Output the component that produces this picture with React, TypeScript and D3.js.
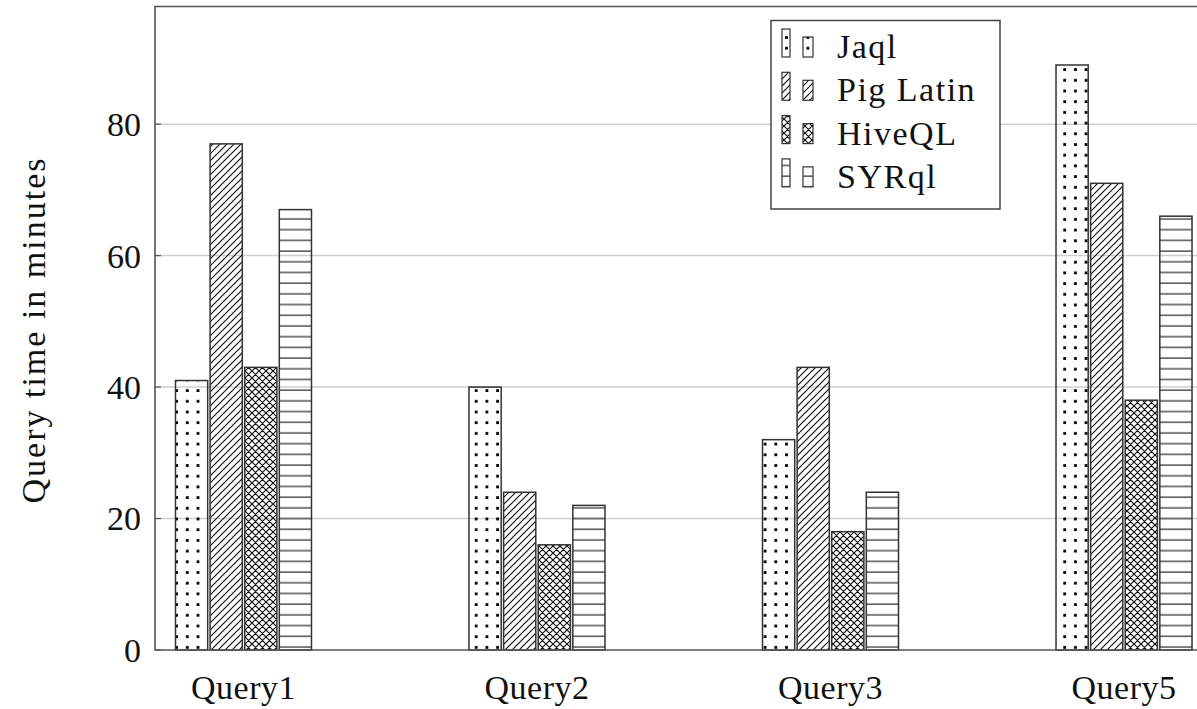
import * as d3 from "d3";
import { useEffect, useRef } from "react";

const CATEGORIES = ["Query1", "Query2", "Query3", "Query5"];
const SERIES = ["Jaql", "Pig Latin", "HiveQL", "SYRql"];
const JAQL = [41, 40, 32, 89];
const PIG_LATIN = [77, 24, 43, 71];
const HIVEQL = [43, 16, 18, 38];
const SYRQL = [67, 22, 24, 66];
const Y_TICKS = [0, 20, 40, 60, 80];
const Y_MAX = 97.9;

const PATTERN_IDS = ["pat-dots", "pat-ne", "pat-cross", "pat-hlines"];
const FONT = "'Liberation Serif', 'Times New Roman', serif";

const W = 1197;
const H = 709;
const margin = { left: 155, top: 6.5, bottom: 59 };
const plotRight = 1212.5;

const App = () => {
	const svgRef = useRef(null);

	useEffect(() => {
		const values = [JAQL, PIG_LATIN, HIVEQL, SYRQL];
		const y0 = H - margin.bottom;

		const xScale = d3
			.scalePoint()
			.domain(CATEGORIES)
			.range([margin.left, plotRight])
			.padding(0.3015);
		const inner = d3
			.scaleBand()
			.domain(SERIES)
			.range([-68, 68])
			.paddingInner(0.07);
		const yScale = d3.scaleLinear().domain([0, Y_MAX]).range([y0, margin.top]);

		const svg = d3.select(svgRef.current);
		svg.selectAll("*").remove();

		// fill patterns, anchored to the page like pgfplots does
		const defs = svg.append("defs");
		const dots = defs
			.append("pattern")
			.attr("id", PATTERN_IDS[0])
			.attr("patternUnits", "userSpaceOnUse")
			.attr("width", 10.7)
			.attr("height", 10.7);
		dots.append("rect").attr("x", 4).attr("y", 4).attr("width", 2.8).attr("height", 2.8).attr("fill", "#000");

		const ne = defs
			.append("pattern")
			.attr("id", PATTERN_IDS[1])
			.attr("patternUnits", "userSpaceOnUse")
			.attr("width", 7)
			.attr("height", 7);
		ne.append("path")
			.attr("d", "M-1,1 L1,-1 M0,7 L7,0 M6,8 L8,6")
			.attr("stroke", "#111")
			.attr("stroke-width", 1.2);

		const cross = defs
			.append("pattern")
			.attr("id", PATTERN_IDS[2])
			.attr("patternUnits", "userSpaceOnUse")
			.attr("width", 7)
			.attr("height", 7);
		cross
			.append("path")
			.attr("d", "M-1,1 L1,-1 M0,7 L7,0 M6,8 L8,6 M-1,6 L1,8 M0,0 L7,7 M6,-1 L8,1")
			.attr("stroke", "#111")
			.attr("stroke-width", 1.2);

		const hl = defs
			.append("pattern")
			.attr("id", PATTERN_IDS[3])
			.attr("patternUnits", "userSpaceOnUse")
			.attr("width", 10)
			.attr("height", 10.7);
		hl.append("line")
			.attr("x1", 0)
			.attr("x2", 10)
			.attr("y1", 5)
			.attr("y2", 5)
			.attr("stroke", "#444")
			.attr("stroke-width", 1.4);

		svg.append("rect").attr("width", W).attr("height", H).attr("fill", "#fff");

		// grid lines
		svg.append("g")
			.selectAll("line")
			.data(Y_TICKS.filter((t) => t > 0))
			.enter()
			.append("line")
			.attr("x1", margin.left)
			.attr("x2", plotRight)
			.attr("y1", (d) => yScale(d))
			.attr("y2", (d) => yScale(d))
			.attr("stroke", "#cfcfcf")
			.attr("stroke-width", 1.5);

		// bars
		SERIES.forEach((name, si) => {
			svg.append("g")
				.selectAll("rect")
				.data(values[si])
				.enter()
				.append("rect")
				.attr("x", (_, i) => xScale(CATEGORIES[i]) + inner(name))
				.attr("y", (d) => yScale(d))
				.attr("width", inner.bandwidth())
				.attr("height", (d) => y0 - yScale(d))
				.attr("fill", `url(#${PATTERN_IDS[si]})`)
				.attr("stroke", "#333")
				.attr("stroke-width", 1.5);
		});

		// frame
		svg.append("path")
			.attr("d", `M${plotRight},${y0} L${margin.left},${y0} L${margin.left},${margin.top} L${plotRight},${margin.top}`)
			.attr("fill", "none")
			.attr("stroke", "#555")
			.attr("stroke-width", 1.6);

		// y ticks
		const yAxis = svg.append("g");
		yAxis
			.selectAll("line")
			.data(Y_TICKS)
			.enter()
			.append("line")
			.attr("x1", margin.left)
			.attr("x2", margin.left + 6)
			.attr("y1", (d) => yScale(d))
			.attr("y2", (d) => yScale(d))
			.attr("stroke", "#555")
			.attr("stroke-width", 1.2);
		yAxis
			.selectAll("text")
			.data(Y_TICKS)
			.enter()
			.append("text")
			.attr("x", margin.left - 14)
			.attr("y", (d) => yScale(d))
			.attr("dy", "0.35em")
			.attr("text-anchor", "end")
			.attr("font-family", FONT)
			.attr("font-size", 34)
			.attr("fill", "#111")
			.text((d) => `${d}`);

		// x labels
		svg.append("g")
			.selectAll("text")
			.data(CATEGORIES)
			.enter()
			.append("text")
			.attr("x", (d) => xScale(d))
			.attr("y", 699)
			.attr("text-anchor", "middle")
			.attr("font-family", FONT)
			.attr("font-size", 34)
			.attr("letter-spacing", 0.5)
			.attr("fill", "#111")
			.text((d) => d);

		// axis label
		svg.append("text")
			.attr("transform", `translate(45, 330) rotate(-90)`)
			.attr("text-anchor", "middle")
			.attr("font-family", FONT)
			.attr("font-size", 34)
			.attr("letter-spacing", 2)
			.attr("fill", "#111")
			.text("Query time in minutes");

		// legend
		const legend = svg.append("g");
		legend
			.append("rect")
			.attr("x", 771)
			.attr("y", 20.5)
			.attr("width", 229)
			.attr("height", 188.5)
			.attr("fill", "#fff")
			.attr("stroke", "#444")
			.attr("stroke-width", 1.5);
		SERIES.forEach((name, si) => {
			const base = 57 + si * 43.3;
			legend
				.append("rect")
				.attr("x", 782)
				.attr("y", base - 28)
				.attr("width", 8)
				.attr("height", 28)
				.attr("fill", `url(#${PATTERN_IDS[si]})`)
				.attr("stroke", "#333")
				.attr("stroke-width", 1.2);
			legend
				.append("rect")
				.attr("x", 803)
				.attr("y", base - 20)
				.attr("width", 10)
				.attr("height", 20)
				.attr("fill", `url(#${PATTERN_IDS[si]})`)
				.attr("stroke", "#333")
				.attr("stroke-width", 1.2);
			legend
				.append("text")
				.attr("x", 837)
				.attr("y", base + 1)
				.attr("font-family", FONT)
				.attr("font-size", 34)
				.attr("letter-spacing", 1.5)
				.attr("fill", "#111")
				.text(name);
		});
	}, []);

	return (
		<svg
			ref={svgRef}
			width={W}
			height={H}
			style={{ position: "absolute", left: 0, top: 0 }}
		/>
	);
};

export default App;
